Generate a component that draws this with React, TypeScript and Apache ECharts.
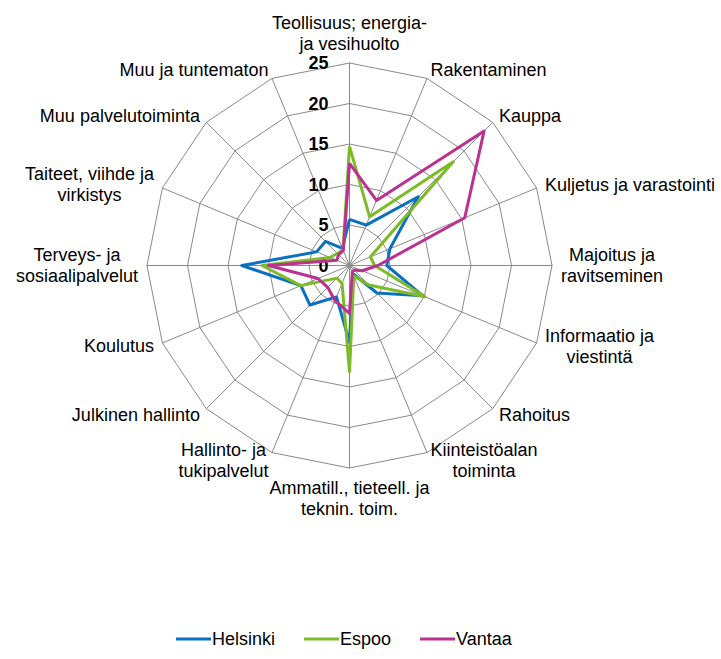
import React, { useEffect, useRef } from "react";
import * as echarts from "echarts";

const categories: string[] = [
  "Teollisuus; energia-\nja vesihuolto",
  "Rakentaminen",
  "Kauppa",
  "Kuljetus ja varastointi",
  "Majoitus ja\nravitseminen",
  "Informaatio ja\nviestintä",
  "Rahoitus",
  "Kiinteistöalan\ntoiminta",
  "Ammatill., tieteell. ja\nteknin. toim.",
  "Hallinto- ja\ntukipalvelut",
  "Julkinen hallinto",
  "Koulutus",
  "Terveys- ja\nsosiaalipalvelut",
  "Taiteet, viihde ja\nvirkistys",
  "Muu palvelutoiminta",
  "Muu ja tuntematon",
];

const helsinki: number[] = [5.7, 5.4, 12.0, 5.4, 4.6, 9.8, 4.8, 1.1, 9.5, 4.2, 6.9, 6.5, 13.3, 4.4, 4.2, 2.3];
const espoo: number[] = [14.7, 6.5, 18.1, 2.8, 3.1, 10.1, 3.4, 1.4, 13.1, 2.4, 2.2, 6.5, 10.8, 2.6, 2.1, 2.1];
const vantaa: number[] = [12.6, 8.7, 23.5, 15.4, 3.5, 1.7, 0.8, 0.9, 5.9, 4.7, 3.8, 4.2, 10.0, 1.7, 1.9, 2.0];

const seriesNames: string[] = ["Helsinki", "Espoo", "Vantaa"];
const seriesColors: string[] = ["#0A70C2", "#7CBA27", "#BA3190"];

const axisMin = 0;
const axisMax = 25;
const axisStep = 5;

const FONT = "'Liberation Sans', Arial, sans-serif";

// ECharts radar runs counter-clockwise; reorder so the chart reads clockwise.
const order = [0, ...Array.from({ length: categories.length - 1 }, (_, i) => categories.length - 1 - i)];
const reorder = <T,>(arr: T[]): T[] => order.map((i) => arr[i]);

export default function App() {
  const ref = useRef<HTMLDivElement>(null);

  useEffect(() => {
    if (!ref.current) return;
    const chart = echarts.init(ref.current, undefined, { renderer: "svg" });
    const cx = 349.5;
    const cy = 265.5;
    const r = 202.5;
    const allData = [helsinki, espoo, vantaa];
    chart.setOption({
      animation: false,
      backgroundColor: "#ffffff",
      textStyle: { fontFamily: FONT },
      legend: {
        data: seriesNames,
        left: 171,
        top: 625,
        icon: "rect",
        itemWidth: 35,
        itemHeight: 3,
        itemGap: 29,
        textStyle: { fontSize: 18, color: "#000", fontFamily: FONT, padding: [0, 0, 0, -4] },
      },
      grid: { left: cx, top: cy - r, height: r, width: 1 },
      xAxis: { type: "value", show: false, min: 0, max: 1 },
      yAxis: {
        type: "value",
        min: axisMin,
        max: axisMax,
        interval: axisStep,
        axisLine: { show: false },
        axisTick: { show: false },
        splitLine: { show: false },
        axisLabel: {
          margin: 21,
          fontSize: 18,
          fontWeight: "bold",
          color: "#000",
          fontFamily: FONT,
        },
      },
      radar: {
        center: [cx, cy],
        radius: r,
        startAngle: 90,
        splitNumber: (axisMax - axisMin) / axisStep,
        shape: "polygon",
        nameGap: 9,
        indicator: reorder(categories).map((name) => ({ name, min: axisMin, max: axisMax })),
        axisName: {
          color: "#000",
          fontSize: 18,
          lineHeight: 21,
          fontFamily: FONT,
          formatter: (name: string) =>
            name
              .split("\n")
              .map((l) => `{c|${l}}`)
              .join("\n"),
          rich: {
            c: {
              align: "center",
              color: "#000",
              fontSize: 18,
              lineHeight: 21,
              fontFamily: FONT,
            },
          },
        },
        axisLine: { lineStyle: { color: "#8a8a8a", width: 1 } },
        splitLine: { lineStyle: { color: "#8a8a8a", width: 1 } },
        splitArea: { show: false },
        axisTick: { show: false },
        axisLabel: { show: false },
      },
      series: [
        {
          type: "radar",
          symbol: "none",
          data: seriesNames.map((name, k) => ({
            name,
            value: reorder(allData[k]),
            lineStyle: { color: seriesColors[k], width: 3 },
            itemStyle: { color: seriesColors[k] },
          })),
        },
      ],
    });
    return () => chart.dispose();
  }, []);

  return (
    <div
      ref={ref}
      style={{ position: "absolute", left: 0, top: 0, width: 721, height: 659 }}
    />
  );
}
